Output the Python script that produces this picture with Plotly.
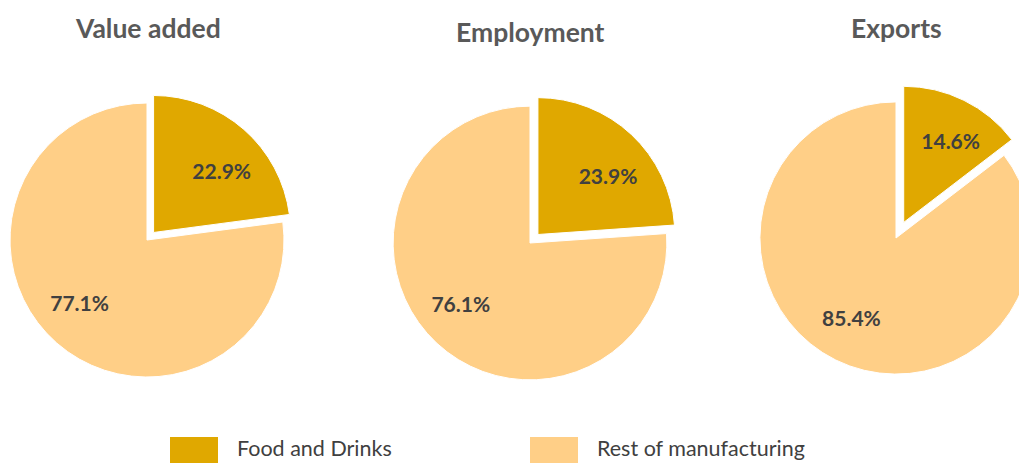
import plotly.graph_objects as go

# ---- data ----
categories = ["Food and Drinks", "Rest of manufacturing"]
panel_titles = ["Value added", "Employment", "Exports"]
food_share = [22.9, 23.9, 14.6]
rest_share = [77.1, 76.1, 85.4]

# ---- styling / layout ----
colors = ["#E0A800", "#FFCF87"]
W, H = 1050, 480
# pie boxes in pixels: (x0, x1, y0, y1) from top-left
boxes = [(0, 294, 93, 387), (381.5, 678.5, 94.5, 391.5), (742.5, 1049.5, 84.5, 391.5)]
pulls = [0.073, 0.085, 0.128]
label_rotation = [6, 6, 3]
title_pos = [(148, 28), (530, 32), (896, 28)]
label_font = dict(family="Lato", size=21, color="#404040", weight="bold")


def px_x(v):
    return v / W


def px_y(v):
    return 1 - v / H


fig = go.Figure()
for i in range(3):
    x0, x1, y0, y1 = boxes[i]
    dom = dict(x=[px_x(x0), px_x(x1)], y=[px_y(y1), px_y(y0)])
    vals = [food_share[i], rest_share[i]]
    # visible slices
    fig.add_trace(go.Pie(
        labels=categories, values=vals, sort=False,
        direction="clockwise", rotation=0, pull=[pulls[i], 0],
        marker=dict(colors=colors, line=dict(color="white", width=1)),
        textposition="none", domain=dom, showlegend=False,
        hoverinfo="label+percent",
    ))
    # transparent ring carrying the data labels (places them further out)
    fig.add_trace(go.Pie(
        labels=categories, values=vals, sort=False,
        direction="clockwise", rotation=label_rotation[i],
        pull=[pulls[i], 0], hole=0.34,
        marker=dict(colors=["rgba(0,0,0,0)"] * 2, line=dict(width=0)),
        texttemplate="%{percent:.1%}", textposition="inside",
        insidetextorientation="horizontal", textfont=label_font,
        domain=dom, showlegend=False, hoverinfo="skip",
    ))

annotations = []
for t, (tx, ty) in zip(panel_titles, title_pos):
    annotations.append(dict(
        text=f"<b>{t}</b>", x=px_x(tx), y=px_y(ty), xref="paper", yref="paper",
        xanchor="center", yanchor="middle", showarrow=False,
        font=dict(family="Lato", size=26.5, color="#595959"),
    ))

# custom legend built from the categories
legend_x = [170, 530]
shapes = []
for cat, col, lx in zip(categories, colors, legend_x):
    shapes.append(dict(
        type="rect", xref="paper", yref="paper",
        x0=px_x(lx), x1=px_x(lx + 48), y0=px_y(H), y1=px_y(437),
        fillcolor=col, line=dict(width=0),
    ))
    annotations.append(dict(
        text=cat, x=px_x(lx + 65), y=px_y(448), xref="paper", yref="paper",
        xanchor="left", yanchor="middle", showarrow=False,
        font=dict(family="Lato", size=21.5, color="#404040"),
    ))

fig.update_layout(
    width=W, height=H,
    margin=dict(l=0, r=0, t=0, b=0),
    paper_bgcolor="white",
    plot_bgcolor="white",
    annotations=annotations,
    shapes=shapes,
)

fig.write_html(
    "out.html",
    config={"displayModeBar": False},
    post_script="document.body.style.margin='0';document.body.style.overflow='hidden';",
)
